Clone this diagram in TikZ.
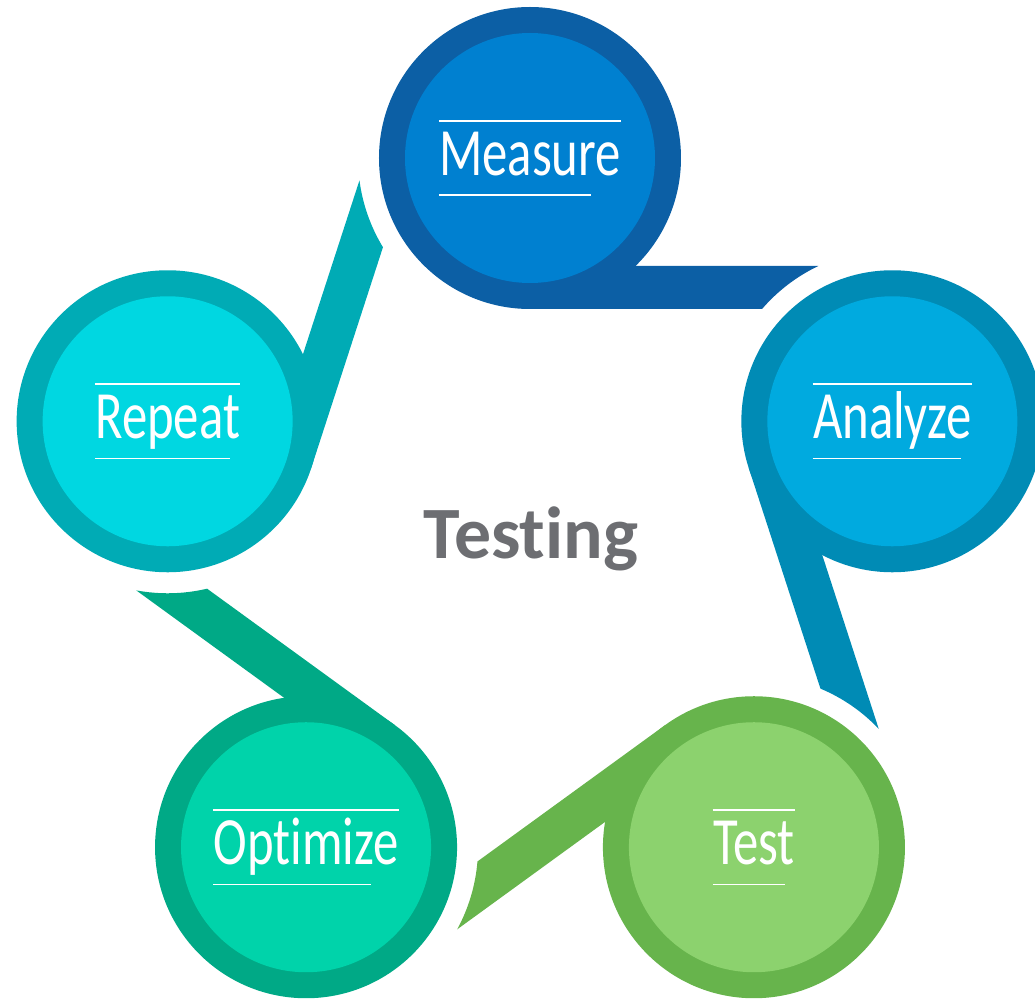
\documentclass[tikz,border=0pt]{standalone}
\usepackage{fontspec}
\newfontfamily\stepfont[FakeStretch=0.75, Ligatures=NoCommon]{Carlito}
\newfontfamily\titlefont[Ligatures=NoCommon]{Carlito}
\definecolor{measureDark}{HTML}{0C5FA5}
\definecolor{measureLight}{HTML}{0080D0}
\definecolor{analyzeDark}{HTML}{008BB5}
\definecolor{analyzeLight}{HTML}{00AADF}
\definecolor{testDark}{HTML}{67B44C}
\definecolor{testLight}{HTML}{8CD26E}
\definecolor{optimizeDark}{HTML}{00A986}
\definecolor{optimizeLight}{HTML}{00D3AA}
\definecolor{repeatDark}{HTML}{00ABB5}
\definecolor{repeatLight}{HTML}{00D7E1}
\definecolor{testingGray}{HTML}{6D6E72}

\begin{document}
\begin{tikzpicture}[x=0.02cm, y=0.02cm,
    tail/.style = {fill=#1},
    ring/.style = {fill=#1},
    steptext/.style = {text=white, inner sep=0pt, text height=31pt, text depth=11pt, font=\stepfont\fontsize{38.5}{40}\selectfont},
    rule/.style = {white, line width=0.9pt}]

    \useasboundingbox (-530,-459) rectangle (505,539);

    % tails, one per step, turned round the middle
    \foreach \k/\col in {0/measureDark, 1/analyzeDark, 2/testDark, 3/optimizeDark, 4/repeatDark}
        \fill[tail=\col, rotate=-72*\k, shift={(0,381)}] (0,-151) -- (232.04,-151)
            arc[start angle=139.26, end angle=115.49, radius=172] -- (0,-108) -- cycle;

    % circles
    \foreach \k/\n/\dark/\light in {0/measure/measureDark/measureLight, 1/analyze/analyzeDark/analyzeLight,
        2/test/testDark/testLight, 3/optimize/optimizeDark/optimizeLight, 4/repeat/repeatDark/repeatLight} {
        \coordinate (\n) at (90-72*\k:381);
        \fill[ring=\dark] (\n) circle[radius=151];
        \fill[ring=\light] (\n) circle[radius=125];
    }

    % labels
    \foreach \n/\txt/\cut in {measure/Measure/17, analyze/Analyze/6, test/Test/6, optimize/Optimize/16, repeat/Repeat/6} {
        \node[steptext] (\n-txt) at (\n) {\txt};
        \draw[rule] (\n-txt.north west) -- (\n-txt.north east);
        \draw[rule] (\n-txt.south west) -- ([xshift=-\cut pt]\n-txt.south east);
    }

    \node[anchor=base, text=testingGray, font=\titlefont\bfseries\fontsize{42}{44}\selectfont] (title) at (1,-19) {Testing};

\end{tikzpicture}
\end{document}
